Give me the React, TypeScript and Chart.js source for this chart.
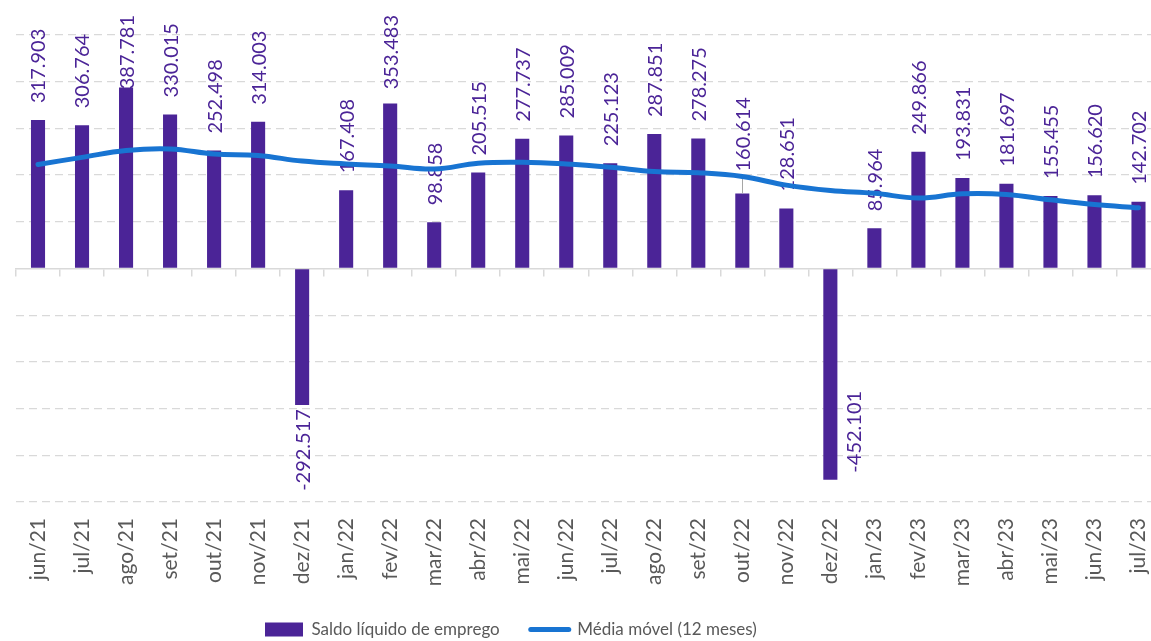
import React, { useEffect, useRef } from "react";
import { Chart, registerables } from "chart.js";

Chart.register(...registerables);

const months = [
  "jun/21", "jul/21", "ago/21", "set/21", "out/21", "nov/21", "dez/21",
  "jan/22", "fev/22", "mar/22", "abr/22", "mai/22", "jun/22", "jul/22",
  "ago/22", "set/22", "out/22", "nov/22", "dez/22", "jan/23", "fev/23",
  "mar/23", "abr/23", "mai/23", "jun/23", "jul/23",
];

const saldoLiquido = [
  317.903, 306.764, 387.781, 330.015, 252.498, 314.003, -292.517,
  167.408, 353.483, 98.858, 205.515, 277.737, 285.009, 225.123,
  287.851, 278.275, 160.614, 128.651, -452.101, 85.964, 249.866,
  193.831, 181.697, 155.455, 156.62, 142.702,
];

const mediaMovel = [
  222.7, 238, 252.7, 256, 245, 242, 230,
  224, 219.5, 213, 225.5, 227.6, 224, 217,
  207.7, 205, 197, 178.5, 167, 161, 151,
  160, 158.5, 147, 137, 130,
];

const yTicks = { min: -500, max: 500, step: 100 };

const seriesNames = ["Saldo líquido de emprego", "Média móvel (12 meses)"];

const PURPLE = "#4B2497";
const BLUE = "#1874D2";
const GRID = "#d9d9d9";
const TEXT = "#595959";
const FONT = "Lato, 'Open Sans', sans-serif";

const fmt = (v: number) => v.toFixed(3);

const barLabelPlugin = {
  id: "barLabels",
  afterDatasetDraw(chart: any, args: any, opts: any) {
    if (args.index !== 0) return;
    const ctx = chart.ctx;
    const area = chart.chartArea;
    const meta = args.meta;
    ctx.save();
    ctx.font = `${opts.size}px ${opts.family}`;
    ctx.fillStyle = opts.color;
    ctx.textBaseline = "middle";
    ctx.textAlign = "left";
    meta.data.forEach((bar: any, i: number) => {
      const v = saldoLiquido[i];
      const text = fmt(v);
      const w = ctx.measureText(text).width;
      let x = bar.x;
      let yStart: number;
      if (v >= 0) {
        let bottom = bar.y - opts.gap;
        if (opts.leaders.includes(i)) {
          bottom -= opts.leaderExtra;
          ctx.save();
          ctx.strokeStyle = "#a6a6a6";
          ctx.lineWidth = 1;
          ctx.beginPath();
          ctx.moveTo(Math.round(bar.x) + 0.5, bottom + 4);
          ctx.lineTo(Math.round(bar.x) + 0.5, bar.y);
          ctx.stroke();
          ctx.restore();
        }
        if (bottom - w < area.top - opts.overTop) bottom = area.top - opts.overTop + w;
        yStart = bottom;
      } else {
        const top = bar.y + opts.negGap;
        if (top + w > area.bottom) {
          x = bar.x + opts.sideShift;
          yStart = bar.y - opts.sideLift;
        } else {
          yStart = top + w;
        }
      }
      ctx.save();
      ctx.translate(x + 1, yStart);
      ctx.rotate(-Math.PI / 2);
      ctx.fillText(text, 0, 0);
      ctx.restore();
    });
    ctx.restore();
  },
};

const legendShiftPlugin = {
  id: "legendShift",
  afterLayout(chart: any, _args: any, opts: any) {
    const lg = chart.legend;
    if (!lg) return;
    const pad = lg.options.labels.padding;
    const w = lg.right - lg.left;
    lg.left = opts.startX - pad;
    lg.right = lg.left + w;
  },
};

export default function App() {
  const ref = useRef<HTMLCanvasElement | null>(null);

  useEffect(() => {
    if (!ref.current) return;
    const chart = new Chart(ref.current, {
      type: "bar",
      data: {
        labels: months,
        datasets: [
          {
            type: "bar",
            label: seriesNames[0],
            data: saldoLiquido,
            backgroundColor: PURPLE,
            borderWidth: 0,
            barPercentage: 0.32,
            categoryPercentage: 1,
            order: 1,
            xAxisID: "x",
            yAxisID: "y",
          },
          {
            type: "line",
            label: seriesNames[1],
            data: mediaMovel,
            borderColor: BLUE,
            backgroundColor: BLUE,
            borderWidth: 5,
            pointRadius: 0,
            tension: 0.4,
            fill: false,
            borderCapStyle: "round",
            borderJoinStyle: "round",
            order: 0,
            xAxisID: "x",
            yAxisID: "y",
          },
        ] as any,
      },
      plugins: [barLabelPlugin, legendShiftPlugin],
      options: {
        animation: false,
        responsive: true,
        maintainAspectRatio: false,
        layout: { padding: { left: 16, right: 16, top: 35, bottom: 0 } },
        plugins: {
          tooltip: { enabled: false },
          legend: {
            display: true,
            position: "bottom",
            align: "start",
            labels: {
              usePointStyle: true,
              pointStyleWidth: 38,
              boxHeight: 14,
              padding: 31,
              color: TEXT,
              font: { family: FONT, size: 17 },
              generateLabels: () => [
                {
                  text: seriesNames[0],
                  fillStyle: PURPLE,
                  strokeStyle: PURPLE,
                  lineWidth: 0,
                  pointStyle: "rect",
                  hidden: false,
                  datasetIndex: 0,
                  fontColor: TEXT,
                },
                {
                  text: seriesNames[1],
                  fillStyle: BLUE,
                  strokeStyle: BLUE,
                  lineWidth: 5,
                  lineCap: "round",
                  pointStyle: "line",
                  hidden: false,
                  datasetIndex: 1,
                  fontColor: TEXT,
                },
              ],
            },
          },
          barLabels: {
            size: 20,
            family: FONT,
            color: PURPLE,
            gap: 17,
            overTop: 20,
            negGap: 4,
            sideShift: 23,
            sideLift: 7,
            leaders: [16],
            leaderExtra: 5,
          },
          legendShift: { startX: 265 },
        } as any,
        scales: {
          x: {
            type: "category",
            position: "bottom",
            offset: true,
            grid: { display: false, drawTicks: false },
            border: { display: false },
            ticks: {
              minRotation: 90,
              maxRotation: 90,
              autoSkip: false,
              padding: 16,
              color: TEXT,
              font: { family: FONT, size: 21 },
            },
            afterFit: (s: any) => {
              s.height = 88;
            },
          },
          x2: {
            type: "category",
            position: { y: 0 },
            offset: true,
            grid: {
              display: true,
              drawOnChartArea: false,
              drawTicks: true,
              tickLength: 7,
              color: GRID,
              lineWidth: 1.5,
              offset: true,
            },
            border: { display: true, color: GRID, width: 1.5 },
            ticks: { display: false },
          },
          y: {
            min: yTicks.min,
            max: yTicks.max,
            ticks: { display: false, stepSize: yTicks.step },
            grid: {
              drawTicks: false,
              lineWidth: 1.3,
              color: (c: any) => (c.tick && c.tick.value === 0 ? "rgba(0,0,0,0)" : GRID),
            },
            border: { display: false, dash: [8, 5] },
          },
        } as any,
      },
    });
    return () => chart.destroy();
  }, []);

  return (
    <div
      style={{
        position: "fixed",
        left: 0,
        top: 0,
        width: 1151,
        height: 641,
        overflow: "hidden",
        background: "#fff",
      }}
    >
      <div style={{ position: "absolute", left: 0, top: 0, width: 1180, height: 648 }}>
        <canvas ref={ref} />
      </div>
    </div>
  );
}
